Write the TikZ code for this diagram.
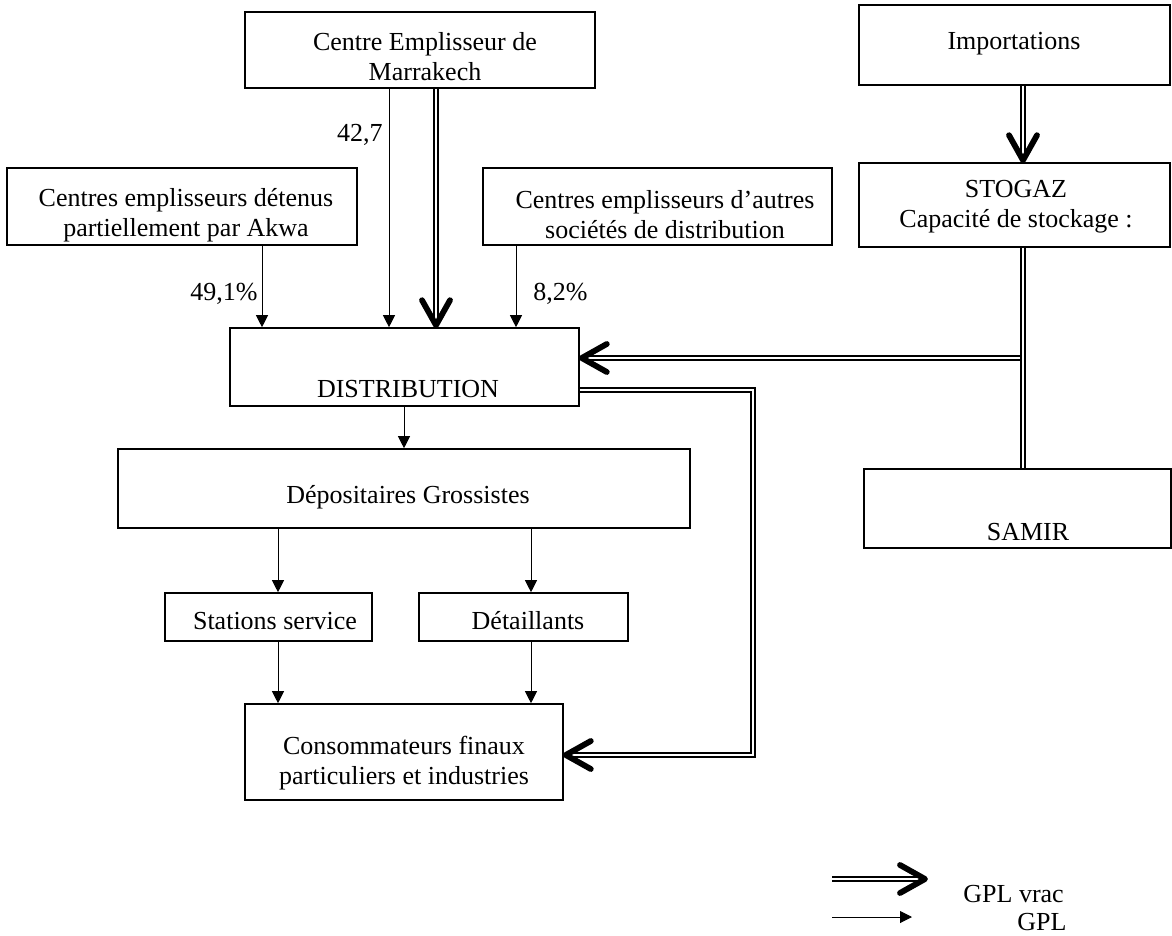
\documentclass[tikz,border=0pt]{standalone}
\usepackage{fontspec}
\setmainfont{Liberation Serif}
\usetikzlibrary{arrows.meta,fit}
\newcommand\chevdown[1]{\draw[chevst] (#1) ++(-14,-27) -- ++(14,25) -- ++(14,-25);}
\newcommand\chevleft[1]{\draw[chevst] (#1) ++(27,-14) -- ++(-25,14) -- ++(25,14);}
\newcommand\chevright[1]{\draw[chevst] (#1) ++(-27,-14) -- ++(25,14) -- ++(-25,14);}
\begin{document}
\begin{tikzpicture}[x=0.5pt,y=-0.5pt,
  box/.style={draw, line width=0.8pt, inner sep=0pt},
  txt/.style={font=\fontsize{13pt}{15pt}\selectfont, inner sep=0pt, align=center},
  thinarr/.style={line width=0.5pt, -{Triangle[length=6pt,width=6pt]}},
  dbl/.style={double, double distance=1.3pt, line width=0.65pt, line join=miter},
  chevst/.style={line width=2.9pt, line cap=round, line join=round}]
\useasboundingbox (0,0) rectangle (1172,936);
% boxes
\node[box, fit={(245,12) (595,88)}] (marr) {};
\node[box, fit={(859,5) (1170,85)}] (imp) {};
\node[box, fit={(7,168) (357,245)}] (akwa) {};
\node[box, fit={(483,168) (832,245)}] (autres) {};
\node[box, fit={(859,163) (1170,247)}] (stog) {};
\node[box, fit={(230,328) (579,406)}] (dist) {};
\node[box, fit={(864,469) (1171,548)}] (samir) {};
\node[box, fit={(118,449) (690,528)}] (dep) {};
\node[box, fit={(165,593) (372,641)}] (stat) {};
\node[box, fit={(419,593) (628,641)}] (det) {};
\node[box, fit={(245,704) (563,800)}] (cons) {};
% texts
\node[txt] (marr-t) at (425,57) {Centre Emplisseur de\\Marrakech};
\node[txt, anchor=base] (imp-t) at (1014,50) {Importations};
\node[txt] (akwa-t) at (186,215) {Centres emplisseurs détenus\\partiellement par Akwa};
\node[txt] (autres-t) at (665,215) {Centres emplisseurs d’autres\\sociétés de distribution};
\node[txt] (stog-t) at (1016,207) {STOGAZ\\Capacité de stockage :};
\node[txt, anchor=base] (dist-t) at (408,397) {DISTRIBUTION};
\node[txt, anchor=base] (samir-t) at (1028,540) {SAMIR};
\node[txt, anchor=base] (dep-t) at (408,503) {Dépositaires Grossistes};
\node[txt, anchor=base] (stat-t) at (275,629) {Stations service};
\node[txt, anchor=base] (det-t) at (528,629) {Détaillants};
\node[txt] (cons-t) at (404,763) {Consommateurs finaux\\particuliers et industries};
% labels
\node[txt, anchor=base east] (l427) at (383,142) {42,7};
\node[txt, anchor=east] (l491) at (258,294) {49,1\%};
\node[txt, anchor=west] (l82) at (533,294) {8,2\%};
% thin arrows
\draw[thinarr] (akwa.south -| 262,0) -- (dist.north -| 262,0);
\draw[thinarr] (marr.south -| 389,0) -- (dist.north -| 389,0);
\draw[thinarr] (autres.south -| 516,0) -- (dist.north -| 516,0);
\draw[thinarr] (dist.south -| 404,0) -- (dep.north -| 404,0);
\draw[thinarr] (dep.south -| 278,0) -- (stat.north -| 278,0);
\draw[thinarr] (dep.south -| 531,0) -- (det.north -| 531,0);
\draw[thinarr] (stat.south -| 278,0) -- (cons.north -| 278,0);
\draw[thinarr] (det.south -| 531,0) -- (cons.north -| 531,0);
% double (bulk) arrows
\draw[dbl, shorten >=1pt] (marr.south -| 436,0) -- (dist.north -| 436,0);
\chevdown{dist.north -| 436,0}
\draw[dbl, shorten >=1pt] (imp.south -| 1023,0) -- (stog.north -| 1023,0);
\chevdown{stog.north -| 1023,0}
\coordinate (jn) at (1021,358);
\draw[dbl, shorten >=1pt] (jn) -- (dist.east |- jn);
\chevleft{dist.east |- jn}
\draw[dbl] (stog.south -| 1023,0) -- (samir.north -| 1023,0);
\coordinate (c1) at (753,390);
\coordinate (c2) at (753,755);
\draw[dbl, shorten >=1pt] (dist.east |- c1) -- (c1) -- (c2) -- (cons.east |- c2);
\chevleft{cons.east |- c2}
% legend
\coordinate (lg1a) at (832,879);
\coordinate (lg1b) at (927,879);
\draw[dbl, shorten >=1pt] (lg1a) -- (lg1b);
\chevright{lg1b}
\coordinate (lg2a) at (832,917);
\coordinate (lg2b) at (912,917);
\draw[thinarr] (lg2a) -- (lg2b);
\node[txt, anchor=west] (lg1t) at (963,894) {GPL vrac};
\node[txt, anchor=west] (lg2t) at (1017,922) {GPL};
\end{tikzpicture}
\end{document}
